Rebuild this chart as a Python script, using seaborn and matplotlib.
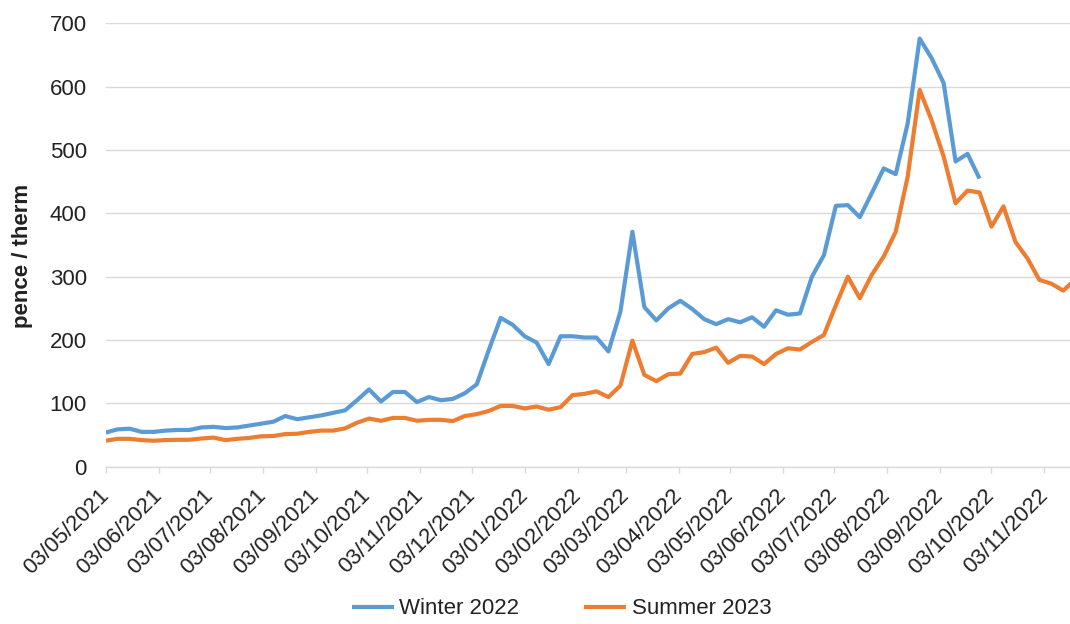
import matplotlib
matplotlib.use("Agg")
import matplotlib.pyplot as plt
import matplotlib.dates as mdates
import numpy as np
import pandas as pd
import seaborn as sns

# ---------------- data (weekly) ----------------
start_date = "2021-05-03"
series_names = ["Winter 2022", "Summer 2023"]
winter_2022 = [54, 59, 60, 55, 55, 57, 58, 58, 62, 63, 61, 62, 65, 68, 71, 80,
               75, 78, 81, 85, 89, 105, 122, 103, 118, 118, 102, 110, 105, 107,
               116, 130, 184, 235, 224, 206, 196, 162, 206, 206, 204, 204, 182,
               245, 371, 252, 231, 250, 262, 249, 233, 225, 233, 228, 236, 221,
               247, 240, 242, 300, 334, 412, 413, 394, 432, 471, 462, 542, 676,
               645, 606, 482, 494, 455]
summer_2023 = [41, 44, 44, 42, 41, 42, 42.5, 42.5, 44.5, 46, 42, 44, 45.5, 48,
               48.5, 51.5, 52, 55, 57, 57, 60.5, 69.5, 76, 72.5, 77, 77, 72.5,
               74, 74, 72, 80, 83, 88, 96, 96, 92, 95, 90, 94, 113, 115, 119,
               110, 128, 199, 145, 135, 146, 147, 178, 181, 188, 164, 175, 174,
               162, 178, 187, 185, 197, 208, 255, 300, 266, 303, 332, 371, 458,
               595, 547, 490, 416, 436, 433, 379, 411, 355, 329, 295, 289, 278,
               296]
tick_labels = ["03/05/2021", "03/06/2021", "03/07/2021", "03/08/2021",
               "03/09/2021", "03/10/2021", "03/11/2021", "03/12/2021",
               "03/01/2022", "03/02/2022", "03/03/2022", "03/04/2022",
               "03/05/2022", "03/06/2022", "03/07/2022", "03/08/2022",
               "03/09/2022", "03/10/2022", "03/11/2022"]
y_ticks = [0, 100, 200, 300, 400, 500, 600, 700]

# ---------------- build table ----------------
frames = []
for name, vals in zip(series_names, [winter_2022, summer_2023]):
    dates = pd.date_range(start_date, periods=len(vals), freq="7D")
    frames.append(pd.DataFrame({"date": dates, "value": vals, "series": name}))
df = pd.concat(frames, ignore_index=True)

# ---------------- style ----------------
sns.set_theme(style="white")
plt.rcParams["font.family"] = ["Liberation Sans", "DejaVu Sans"]
text_color = "#222222"
grid_color = "#D9D9D9"
palette = {"Winter 2022": "#5B9BD5", "Summer 2023": "#ED7D31"}

W, H = 1070, 624
fig = plt.figure(figsize=(W / 100, H / 100), dpi=100)
ax_left, ax_right = 105.7, 1070.0
ax_top, ax_bottom = 23.4, 466.7
ax = fig.add_axes([ax_left / W, 1 - ax_bottom / H,
                   (ax_right - ax_left) / W, (ax_bottom - ax_top) / H])

sns.lineplot(data=df, x="date", y="value", hue="series", hue_order=series_names,
             palette=palette, linewidth=3.0, ax=ax, sort=False)
for ln in ax.lines:
    ln.set_solid_joinstyle("round")
    ln.set_solid_capstyle("butt")

# x axis: date axis, 1.71 px per day
tick_dates = pd.to_datetime(tick_labels, format="%d/%m/%Y")
x0 = mdates.date2num(pd.Timestamp(start_date))
days_span = (ax_right - ax_left) / 1.71
ax.set_xlim(x0, x0 + days_span)
ax.set_xticks(mdates.date2num(tick_dates))
ax.set_xticklabels(tick_labels, rotation=45, ha="right", va="center",
                   rotation_mode="anchor")
ax.set_ylim(0, 700)
ax.set_yticks(y_ticks)
ax.set_yticklabels([str(v) for v in y_ticks])

ax.grid(axis="y", color=grid_color, linewidth=1.0)
ax.grid(axis="x", visible=False)
ax.set_axisbelow(True)
for s in ["top", "right", "left"]:
    ax.spines[s].set_visible(False)
ax.spines["bottom"].set_color(grid_color)
ax.spines["bottom"].set_linewidth(1.0)
ax.spines["bottom"].set_zorder(0.5)

ax.tick_params(axis="x", which="major", direction="out", length=4.5, width=1.0,
               color=grid_color, labelsize=16, labelcolor=text_color, pad=14,
               bottom=True)
ax.tick_params(axis="y", length=0, labelsize=16, labelcolor=text_color, pad=13.5)

ax.set_xlabel("")
ax.set_ylabel("pence / therm", fontsize=16, fontweight="bold", color=text_color)
ax.yaxis.set_label_coords(-0.0754, 0.475)

# legend at the bottom
handles, labels = ax.get_legend_handles_labels()
if ax.get_legend() is not None:
    ax.get_legend().remove()
fig.legend(handles, labels, loc="center", bbox_to_anchor=(561.5 / W, 1 - 609 / H),
           ncol=2, frameon=False, fontsize=16, handlelength=1.9,
           handletextpad=0.25, columnspacing=2.9, labelcolor=text_color)

fig.savefig("out.png", dpi=100)
